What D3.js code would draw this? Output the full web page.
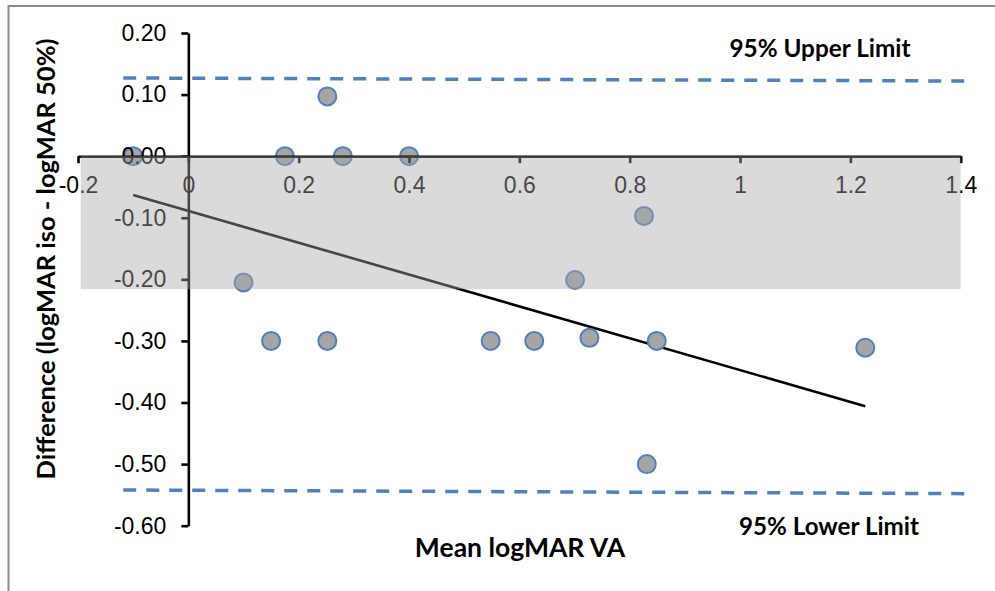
<!DOCTYPE html>
<html>
<head>
<meta charset="utf-8">
<script src="https://cdn.jsdelivr.net/npm/d3@7"></script>
<style>
  body { margin: 0; background: #fff; }
  .tick text { font-family: "Liberation Sans", Arial, sans-serif; font-size: 23px; fill: #000; }
  .title { font-family: Lato, "Open Sans", sans-serif; font-weight: 700; fill: #000; }
</style>
</head>
<body>
<div id="chart"></div>
<script>
// points: mean logMAR VA vs difference
const meanVA = [-0.1, 0.175, 0.28, 0.4, 0.252, 0.1, 0.15, 0.252, 0.548, 0.627, 0.701, 0.727, 0.826, 0.849, 0.831, 1.227];
const diff   = [0.0, 0.0, 0.0, 0.0, 0.097, -0.205, -0.3, -0.3, -0.3, -0.3, -0.201, -0.295, -0.097, -0.3, -0.5, -0.311];

// regression line ends
const trendX = [-0.1, 1.227];
const trendY = [-0.063, -0.406];

// 95% limits (dashed)
const limitX = [-0.118, 1.413];
const upperY = [0.127, 0.122];
const lowerY = [-0.542, -0.548];

// shaded band
const bandX = [-0.195, 1.4];
const bandY = [0, -0.216];

const xTicks = [-0.2, 0, 0.2, 0.4, 0.6, 0.8, 1, 1.2, 1.4];
const yTicks = [-0.6, -0.5, -0.4, -0.3, -0.2, -0.1, 0, 0.1, 0.2];

const width = 995, height = 591;

const svg = d3.select("#chart").append("svg")
  .attr("width", width)
  .attr("height", height);

// chart frame
svg.append("rect")
  .attr("x", 8.5).attr("y", 6)
  .attr("width", 1000).attr("height", 600)
  .attr("fill", "none")
  .attr("stroke", "#8c8c8c")
  .attr("stroke-width", 2);

const x = d3.scaleLinear().domain([-0.2, 1.4]).range([78, 960.7]);
const y = d3.scaleLinear().domain([-0.6, 0.2]).range([525.7, 33]);

// dashed limit lines
[upperY, lowerY].forEach(ys => {
  svg.append("line")
    .attr("x1", x(limitX[0])).attr("x2", x(limitX[1]))
    .attr("y1", y(ys[0])).attr("y2", y(ys[1]))
    .attr("stroke", "#4f81bd")
    .attr("stroke-width", 3.5)
    .attr("stroke-dasharray", "13,10");
});

// trend line
svg.append("line")
  .attr("x1", x(trendX[0])).attr("x2", x(trendX[1]))
  .attr("y1", y(trendY[0])).attr("y2", y(trendY[1]))
  .attr("stroke", "#000")
  .attr("stroke-width", 2.6);

// points
svg.selectAll("circle.pt")
  .data(meanVA.map((d, i) => [d, diff[i]]))
  .join("circle")
  .attr("class", "pt")
  .attr("cx", d => x(d[0]))
  .attr("cy", d => y(d[1]))
  .attr("r", 9)
  .attr("fill", "#a5a5a5")
  .attr("stroke", "#4f81bd")
  .attr("stroke-width", 2);

// axes crossing at 0
const yAxis = svg.append("g")
  .attr("transform", `translate(${x(0)},0)`)
  .call(d3.axisLeft(y).tickValues(yTicks).tickSize(7).tickSizeOuter(0).tickPadding(15)
    .tickFormat(d => d.toFixed(2)));

const xAxis = svg.append("g")
  .attr("transform", `translate(0,${y(0)})`)
  .call(d3.axisBottom(x).tickValues(xTicks).tickSize(7).tickSizeOuter(0).tickPadding(13)
    .tickFormat(d => String(+d.toFixed(1))));

[xAxis, yAxis].forEach(g => {
  g.select(".domain").attr("stroke", "#000").attr("stroke-width", 2.6);
  g.selectAll(".tick line").attr("stroke", "#000").attr("stroke-width", 2.6);
});

// translucent shaded band drawn over everything
svg.append("rect")
  .attr("x", x(bandX[0]))
  .attr("y", y(bandY[0]))
  .attr("width", x(bandX[1]) - x(bandX[0]))
  .attr("height", y(bandY[1]) - y(bandY[0]))
  .attr("fill", "#a6a6a6")
  .attr("fill-opacity", 0.42);

// titles
svg.append("text").attr("class", "title")
  .attr("x", 520).attr("y", 557)
  .attr("text-anchor", "middle")
  .style("font-size", "26.5px")
  .text("Mean logMAR VA");

svg.append("text").attr("class", "title")
  .attr("transform", "translate(55,259) rotate(-90)")
  .attr("text-anchor", "middle")
  .style("font-size", "25.5px")
  .text("Difference (logMAR iso - logMAR 50%)");

svg.append("text").attr("class", "title")
  .attr("x", 820).attr("y", 57)
  .attr("text-anchor", "middle")
  .style("font-size", "24.3px")
  .text("95% Upper Limit");

svg.append("text").attr("class", "title")
  .attr("x", 829).attr("y", 535)
  .attr("text-anchor", "middle")
  .style("font-size", "24.2px")
  .text("95% Lower Limit");
</script>
</body>
</html>
